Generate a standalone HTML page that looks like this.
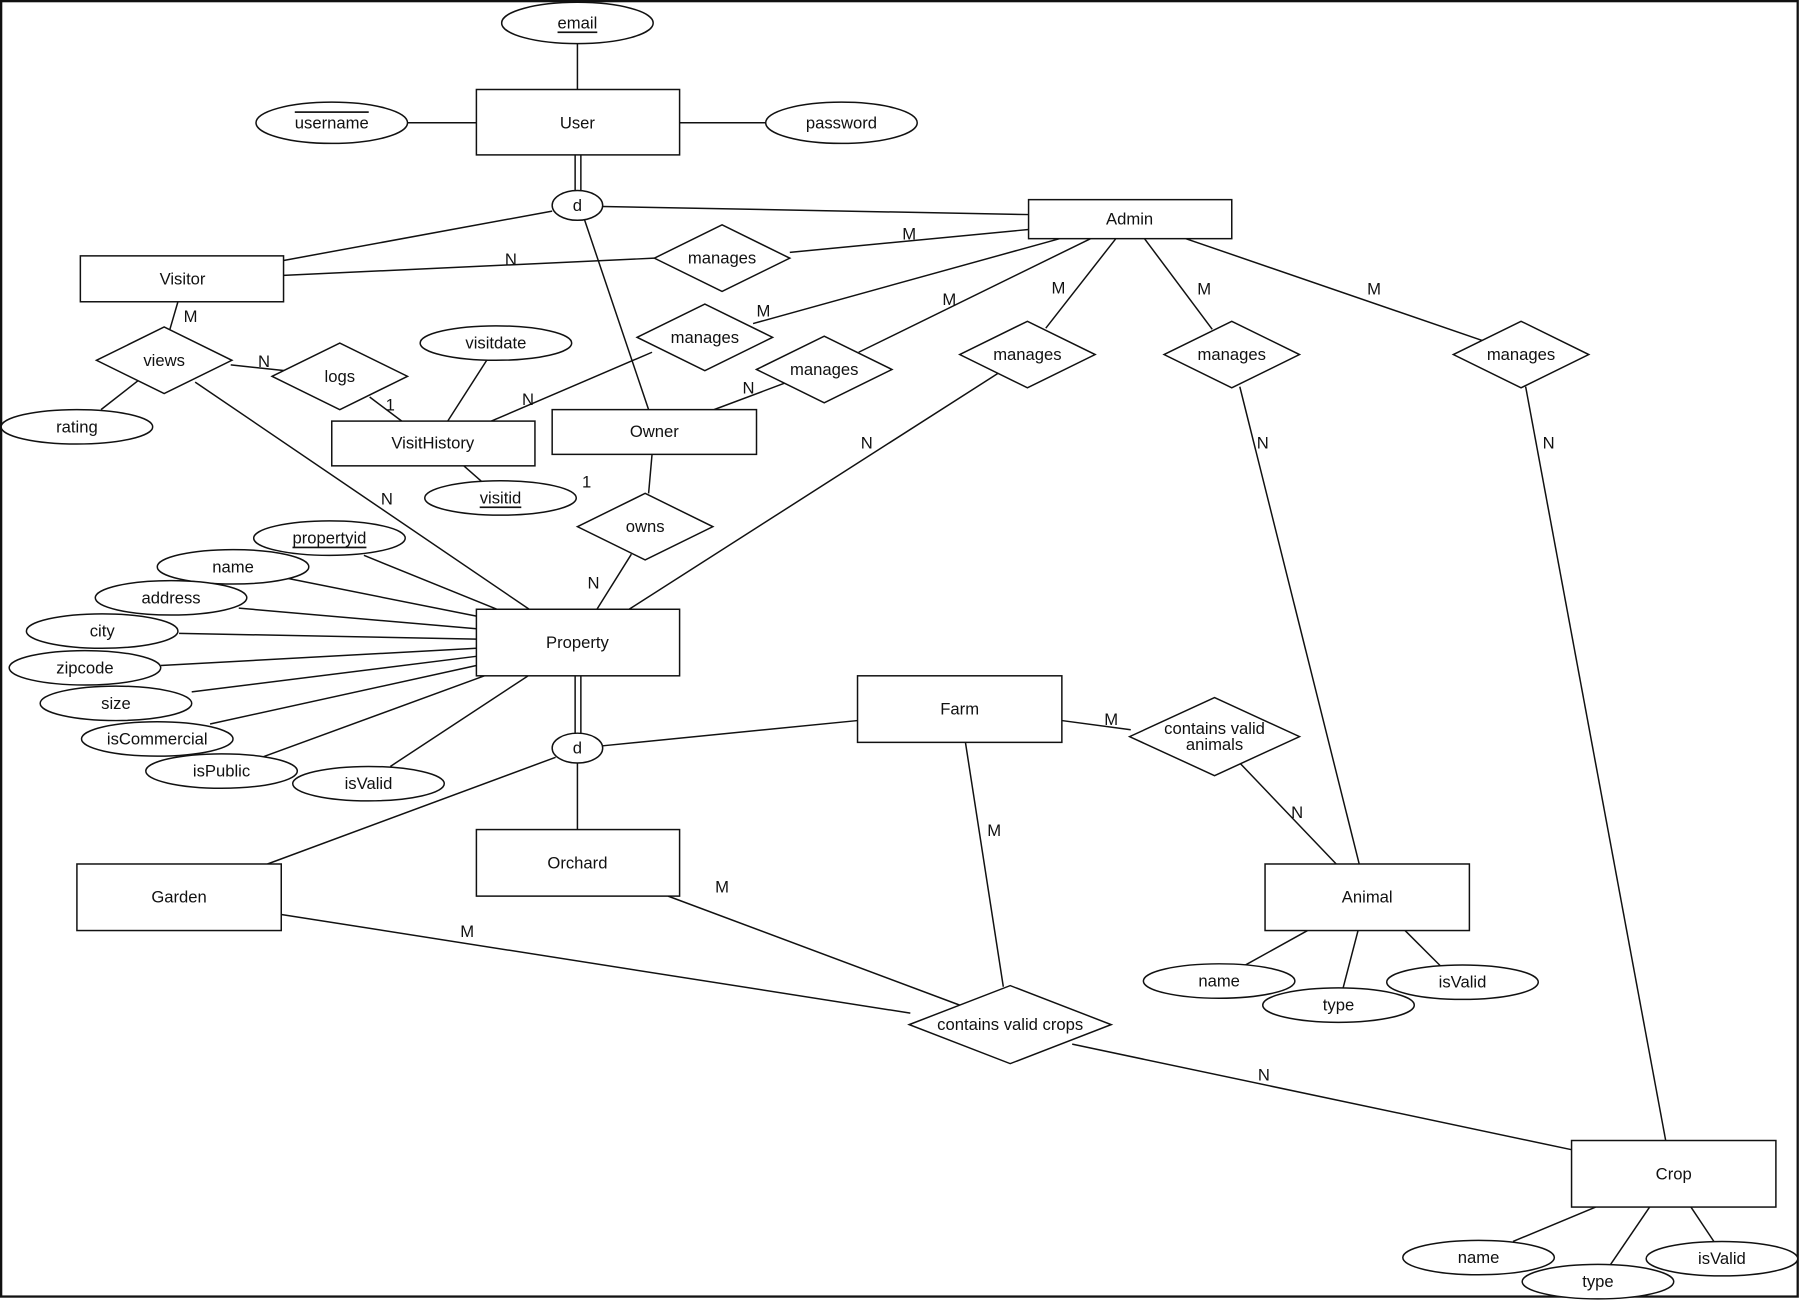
<!DOCTYPE html>
<html><head><meta charset="utf-8"><style>
html,body{margin:0;padding:0;background:#fff;}
svg{display:block;}
text{font-family:"Liberation Sans",sans-serif;font-size:14.5px;fill:#111;text-anchor:middle;dominant-baseline:central;}
.s{stroke:#111;stroke-width:1.3;fill:#fff;}
line{stroke:#111;stroke-width:1.3;}
</style></head><body>
<svg width="1800" height="1300" viewBox="0 0 1568 1133" preserveAspectRatio="none" xmlns="http://www.w3.org/2000/svg">
<rect x="1" y="1" width="1565" height="1129" fill="none" stroke="#111" stroke-width="2"/>
<g>
<line x1="503" y1="38" x2="503" y2="78"/>
<line x1="355" y1="107" x2="415" y2="107"/>
<line x1="592" y1="107" x2="667" y2="107"/>
<line x1="501" y1="135" x2="501" y2="166"/><line x1="506" y1="135" x2="506" y2="166"/>
<line x1="525" y1="180" x2="896" y2="187"/>
<line x1="481" y1="184" x2="247" y2="227"/>
<line x1="509" y1="191" x2="565" y2="357"/>
<line x1="247" y1="240" x2="570" y2="225"/>
<line x1="688" y1="220" x2="896" y2="200"/>
<line x1="155" y1="263" x2="148" y2="287"/>
<line x1="201" y1="318" x2="248" y2="323"/>
<line x1="322" y1="346" x2="350" y2="367"/>
<line x1="424" y1="314" x2="390" y2="367"/>
<line x1="88" y1="357" x2="120" y2="332"/>
<line x1="404" y1="406" x2="420" y2="420"/>
<line x1="428" y1="367" x2="568" y2="307"/>
<line x1="656" y1="282" x2="923" y2="208"/>
<line x1="748" y1="307" x2="950" y2="208"/>
<line x1="622" y1="357" x2="686" y2="333"/>
<line x1="911" y1="286" x2="972" y2="208"/>
<line x1="1056" y1="287" x2="997" y2="208"/>
<line x1="1292" y1="297" x2="1033" y2="208"/>
<line x1="568" y1="396" x2="565" y2="430"/>
<line x1="550" y1="483" x2="520" y2="531"/>
<line x1="170" y1="333" x2="461" y2="531"/>
<line x1="870" y1="325" x2="548" y2="531"/>
<line x1="1080" y1="337" x2="1184" y2="753"/>
<line x1="1329" y1="337" x2="1451" y2="994"/>
<line x1="317" y1="484" x2="433" y2="531"/>
<line x1="250" y1="504" x2="415" y2="537"/>
<line x1="208" y1="530" x2="415" y2="548"/>
<line x1="156" y1="552" x2="415" y2="557"/>
<line x1="140" y1="580" x2="415" y2="565"/>
<line x1="167" y1="603" x2="415" y2="572"/>
<line x1="183" y1="631" x2="415" y2="580"/>
<line x1="228" y1="660" x2="422" y2="589"/>
<line x1="340" y1="668" x2="460" y2="589"/>
<line x1="501" y1="589" x2="501" y2="640"/><line x1="506" y1="589" x2="506" y2="640"/>
<line x1="525" y1="650" x2="747" y2="628"/>
<line x1="484" y1="660" x2="233" y2="753"/>
<line x1="503" y1="665" x2="503" y2="723"/>
<line x1="925" y1="628" x2="985" y2="636"/>
<line x1="1080" y1="665" x2="1164" y2="753"/>
<line x1="841" y1="647" x2="874" y2="860"/>
<line x1="582" y1="781" x2="836" y2="876"/>
<line x1="245" y1="797" x2="793" y2="883"/>
<line x1="934" y1="910" x2="1369" y2="1002"/>
<line x1="1139" y1="811" x2="1085" y2="841"/>
<line x1="1183" y1="811" x2="1170" y2="861"/>
<line x1="1224" y1="811" x2="1255" y2="842"/>
<line x1="1390" y1="1052" x2="1318" y2="1082"/>
<line x1="1437" y1="1052" x2="1403" y2="1102"/>
<line x1="1473" y1="1052" x2="1493" y2="1082"/>
</g>
<g class="s">
<rect x="415" y="78" width="177" height="57"/>
<rect x="896" y="174" width="177" height="34"/>
<rect x="70" y="223" width="177" height="40"/>
<rect x="289" y="367" width="177" height="39"/>
<rect x="481" y="357" width="178" height="39"/>
<rect x="415" y="531" width="177" height="58"/>
<rect x="747" y="589" width="178" height="58"/>
<rect x="415" y="723" width="177" height="58"/>
<rect x="67" y="753" width="178" height="58"/>
<rect x="1102" y="753" width="178" height="58"/>
<rect x="1369" y="994" width="178" height="58"/>
</g>
<g class="s">
<ellipse cx="503" cy="20" rx="66" ry="18"/>
<ellipse cx="289" cy="107" rx="66" ry="18"/>
<ellipse cx="733" cy="107" rx="66" ry="18"/>
<ellipse cx="503" cy="179" rx="22" ry="13"/>
<ellipse cx="503" cy="652" rx="22" ry="13"/>
<ellipse cx="432" cy="299" rx="66" ry="15"/>
<ellipse cx="67" cy="372" rx="66" ry="15"/>
<ellipse cx="436" cy="434" rx="66" ry="15"/>
<ellipse cx="287" cy="469" rx="66" ry="15"/>
<ellipse cx="203" cy="494" rx="66" ry="15"/>
<ellipse cx="149" cy="521" rx="66" ry="15"/>
<ellipse cx="89" cy="550" rx="66" ry="15"/>
<ellipse cx="74" cy="582" rx="66" ry="15"/>
<ellipse cx="101" cy="613" rx="66" ry="15"/>
<ellipse cx="137" cy="644" rx="66" ry="15"/>
<ellipse cx="193" cy="672" rx="66" ry="15"/>
<ellipse cx="321" cy="683" rx="66" ry="15"/>
<ellipse cx="1062" cy="855" rx="66" ry="15"/>
<ellipse cx="1166" cy="876" rx="66" ry="15"/>
<ellipse cx="1274" cy="856" rx="66" ry="15"/>
<ellipse cx="1288" cy="1096" rx="66" ry="15"/>
<ellipse cx="1392" cy="1117" rx="66" ry="15"/>
<ellipse cx="1500" cy="1097" rx="66" ry="15"/>
</g>
<g class="s">
<polygon points="570,225 629,196 688,225 629,254"/>
<polygon points="555,294 614,265 673,294 614,323"/>
<polygon points="659,322 718,293 777,322 718,351"/>
<polygon points="836,309 895,280 954,309 895,338"/>
<polygon points="1014,309 1073,280 1132,309 1073,338"/>
<polygon points="1266,309 1325,280 1384,309 1325,338"/>
<polygon points="84,314 143,285 202,314 143,343"/>
<polygon points="237,328 296,299 355,328 296,357"/>
<polygon points="503,459 562,430 621,459 562,488"/>
<polygon points="984,642 1058,608 1132,642 1058,676"/>
<polygon points="792,893 880,859 968,893 880,927"/>
</g>
<text x="503" y="20" text-decoration="underline">email</text>
<text x="289" y="107" text-decoration="overline">username</text>
<text x="733" y="107">password</text>
<text x="503" y="107">User</text>
<text x="503" y="179">d</text>
<text x="984" y="191">Admin</text>
<text x="159" y="243">Visitor</text>
<text x="629" y="225">manages</text>
<text x="614" y="294">manages</text>
<text x="718" y="322">manages</text>
<text x="895" y="309">manages</text>
<text x="1073" y="309">manages</text>
<text x="1325" y="309">manages</text>
<text x="143" y="314">views</text>
<text x="296" y="328">logs</text>
<text x="432" y="299">visitdate</text>
<text x="67" y="372">rating</text>
<text x="377" y="386">VisitHistory</text>
<text x="570" y="376">Owner</text>
<text x="436" y="434" text-decoration="underline">visitid</text>
<text x="562" y="459">owns</text>
<text x="287" y="469" text-decoration="underline">propertyid</text>
<text x="203" y="494">name</text>
<text x="149" y="521">address</text>
<text x="89" y="550">city</text>
<text x="74" y="582">zipcode</text>
<text x="101" y="613">size</text>
<text x="137" y="644">isCommercial</text>
<text x="193" y="672">isPublic</text>
<text x="321" y="683">isValid</text>
<text x="503" y="560">Property</text>
<text x="503" y="652">d</text>
<text x="836" y="618">Farm</text>
<text x="503" y="752">Orchard</text>
<text x="156" y="782">Garden</text>
<text x="1191" y="782">Animal</text>
<text x="1458" y="1023">Crop</text>
<text x="1058" y="635">contains valid</text>
<text x="1058" y="649">animals</text>
<text x="880" y="893">contains valid crops</text>
<text x="1062" y="855">name</text>
<text x="1166" y="876">type</text>
<text x="1274" y="856">isValid</text>
<text x="1288" y="1096">name</text>
<text x="1392" y="1117">type</text>
<text x="1500" y="1097">isValid</text>
<text x="445" y="226">N</text>
<text x="792" y="204">M</text>
<text x="166" y="276">M</text>
<text x="230" y="315">N</text>
<text x="340" y="353">1</text>
<text x="460" y="348">N</text>
<text x="665" y="271">M</text>
<text x="827" y="261">M</text>
<text x="652" y="338">N</text>
<text x="922" y="251">M</text>
<text x="1049" y="252">M</text>
<text x="1197" y="252">M</text>
<text x="511" y="420">1</text>
<text x="517" y="508">N</text>
<text x="337" y="435">N</text>
<text x="755" y="386">N</text>
<text x="1100" y="386">N</text>
<text x="1349" y="386">N</text>
<text x="968" y="627">M</text>
<text x="1130" y="708">N</text>
<text x="866" y="724">M</text>
<text x="629" y="773">M</text>
<text x="407" y="812">M</text>
<text x="1101" y="937">N</text>
</svg>
</body></html>
